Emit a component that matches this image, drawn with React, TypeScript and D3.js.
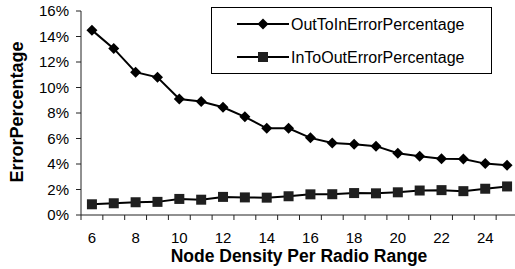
import React from "react";
import * as d3 from "d3";

const categories = [6, 7, 8, 9, 10, 11, 12, 13, 14, 15, 16, 17, 18, 19, 20, 21, 22, 23, 24, 25];
const outToIn = [14.5, 13.05, 11.2, 10.8, 9.1, 8.9, 8.45, 7.7, 6.8, 6.8, 6.05, 5.65, 5.55, 5.4, 4.85, 4.6, 4.42, 4.4, 4.03, 3.9];
const inToOut = [0.84, 0.92, 1.0, 1.03, 1.26, 1.2, 1.42, 1.38, 1.36, 1.47, 1.62, 1.63, 1.72, 1.7, 1.78, 1.92, 1.95, 1.87, 2.06, 2.24];
const yTicks = [0, 2, 4, 6, 8, 10, 12, 14, 16];
const xLabels = [6, 8, 10, 12, 14, 16, 18, 20, 22, 24];
const seriesNames = ["OutToInErrorPercentage", "InToOutErrorPercentage"];

export default function App() {
  const W = 515, H = 269;
  const left = 81, right = 518, top = 11, bottom = 215;
  const x = d3.scaleBand<number>().domain(categories).range([left, right]);
  const y = d3.scaleLinear().domain([0, 16]).range([bottom, top]);
  const cx = (c: number) => (x(c) as number) + x.bandwidth() / 2;
  const line = d3.line<number>().x((_, i) => cx(categories[i])).y((v) => y(v));
  const font = "Arial, 'Liberation Sans', sans-serif";
  const diamond = (px: number, py: number, k: string | number) => (
    <path key={k} d={`M${px},${py - 5.5}L${px + 5.5},${py}L${px},${py + 5.5}L${px - 5.5},${py}Z`} fill="#000" />
  );
  const square = (px: number, py: number, k: string | number) => (
    <rect key={k} x={px - 5} y={py - 5} width={10} height={10} fill="#1f1f1f" />
  );
  const boundaries = categories.map((c) => x(c) as number).concat([right]);
  return (
    <svg width={W} height={H} style={{ position: "absolute", left: 0, top: 0 }} fontFamily={font}>
      <rect width={W} height={H} fill="#fff" />
      {/* axes */}
      <line x1={left} x2={left} y1={top} y2={bottom} stroke="#222" strokeWidth={1} />
      <line x1={left} x2={right} y1={bottom} y2={bottom} stroke="#222" strokeWidth={1} />
      {yTicks.map((t) => (
        <g key={t}>
          <line x1={left - 5} x2={left} y1={y(t)} y2={y(t)} stroke="#222" />
          <text x={left - 12} y={y(t)} dy="0.35em" textAnchor="end" fontSize={15}>{t}%</text>
        </g>
      ))}
      {boundaries.map((b, i) => (
        <line key={i} x1={b} x2={b} y1={bottom} y2={bottom + 5} stroke="#222" />
      ))}
      {xLabels.map((c) => (
        <text key={c} x={cx(c)} y={243} textAnchor="middle" fontSize={15}>{c}</text>
      ))}
      <text x={299} y={262} textAnchor="middle" fontSize={17.5} fontWeight="bold">Node Density Per Radio Range</text>
      <text transform={`translate(23,112) rotate(-90)`} textAnchor="middle" fontSize={18} fontWeight="bold">ErrorPercentage</text>
      {/* series */}
      <path d={line(outToIn) || ""} fill="none" stroke="#000" strokeWidth={2} />
      <path d={line(inToOut) || ""} fill="none" stroke="#000" strokeWidth={2} />
      {outToIn.map((v, i) => diamond(cx(categories[i]), y(v), "d" + i))}
      {inToOut.map((v, i) => square(cx(categories[i]), y(v), "s" + i))}
      {/* legend */}
      <rect x={211.5} y={7.5} width={280} height={66} fill="#fff" stroke="#000" strokeWidth={1} />
      <line x1={237} x2={289} y1={24} y2={24} stroke="#000" strokeWidth={2} />
      {diamond(263, 24, "ld")}
      <text x={291} y={24} dy="0.35em" fontSize={16}>{seriesNames[0]}</text>
      <line x1={237} x2={289} y1={57} y2={57} stroke="#000" strokeWidth={2} />
      {square(263, 57, "ls")}
      <text x={291} y={57} dy="0.35em" fontSize={16}>{seriesNames[1]}</text>
    </svg>
  );
}
